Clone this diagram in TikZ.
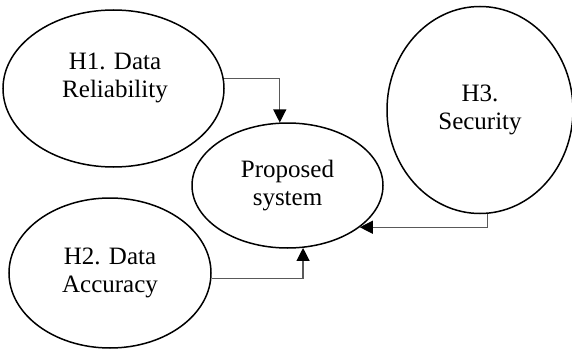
\documentclass[tikz,border=0pt]{standalone}
\usepackage{fontspec}
\setmainfont{Liberation Serif}
\usetikzlibrary{shapes.geometric,arrows.meta}
\begin{document}
\begin{tikzpicture}[x=1pt,y=-1pt,
  txt/.style={align=center,font=\fontsize{25}{28}\selectfont,inner sep=0pt},
  oval/.style={ellipse,draw=black,line width=1.5pt,inner sep=0pt,txt},
  link/.style={draw=black!65,line width=1.2pt,
    -{Triangle[length=13pt,width=13pt,color=black]}}]
\useasboundingbox (0,0) rectangle (572,350);
\node[oval,minimum width=221pt,minimum height=157pt,
  label={[txt,xshift=1.5pt,yshift=11pt]center:H1. Data\\Reliability}] (h1) at (113.5,88.5) {};
\node[oval,minimum width=191pt,minimum height=125pt] (prop) at (287.5,185.5) {Proposed\\system};
\node[oval,minimum width=202pt,minimum height=150pt] (h2) at (110,273) {H2. Data\\Accuracy};
\node[oval,minimum width=186pt,minimum height=207pt] (h3) at (480,110) {H3.\\Security};
\draw[link] (h1.5.5) -| (prop.97);
\draw[link] (h2.-3.4) -| (prop.-76);
\draw[link] (h3.-86.7) |- (prop.-30.2);
\end{tikzpicture}
\end{document}
